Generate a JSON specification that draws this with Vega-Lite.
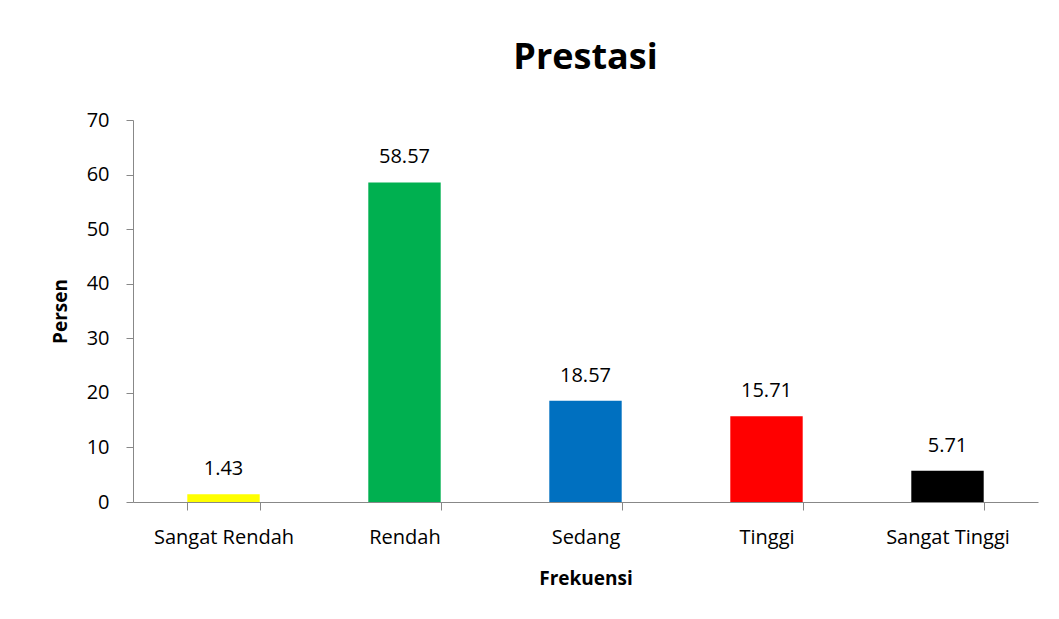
{
  "$schema": "https://vega.github.io/schema/vega-lite/v6.json",
  "autosize": "none",
  "width": 905,
  "height": 382,
  "padding": {"left": 133, "top": 120, "right": 21, "bottom": 117},
  "background": "white",
  "title": {"text": "Prestasi", "font": "Open Sans", "fontSize": 36, "fontWeight": "bold", "color": "black", "offset": 33, "anchor": "middle"},
  "config": {"view": {"stroke": null}, "font": "Open Sans"},
  "data": {"values": [
    {"k": "Sangat Rendah", "v": 1.43, "c": "#FFFF00"},
    {"k": "Rendah", "v": 58.57, "c": "#00B050"},
    {"k": "Sedang", "v": 18.57, "c": "#0070C0"},
    {"k": "Tinggi", "v": 15.71, "c": "#FF0000"},
    {"k": "Sangat Tinggi", "v": 5.71, "c": "#000000"}
  ]},
  "encoding": {
    "x": {"field": "k", "type": "nominal", "sort": null,
      "scale": {"paddingInner": 0.6, "paddingOuter": 0.3},
      "axis": {"title": "Frekuensi", "labelAngle": 0, "labelFontSize": 20, "labelColor": "black", "labelPadding": 17, "tickSize": 8, "tickBand": "extent", "domainColor": "#888888", "tickColor": "#888888", "titleFontSize": 19, "titleFontWeight": "bold", "titleColor": "black", "titlePadding": 22}},
    "y": {"field": "v", "type": "quantitative", "scale": {"domain": [0, 70]},
      "axis": {"title": "Persen", "values": [0,10,20,30,40,50,60,70], "grid": false, "labelFontSize": 20, "labelColor": "black", "labelPadding": 17, "tickSize": 7, "domainColor": "#888888", "tickColor": "#888888", "titleFontSize": 19, "titleFontWeight": "bold", "titleColor": "black", "titlePadding": 16}}
  },
  "layer": [
    {"mark": {"type": "bar"}, "encoding": {"color": {"field": "c", "type": "nominal", "scale": null}}},
    {"mark": {"type": "text", "baseline": "bottom", "dy": -15, "fontSize": 20, "color": "black"}, "encoding": {"text": {"field": "v", "type": "quantitative", "format": ".2f"}}}
  ]
}
